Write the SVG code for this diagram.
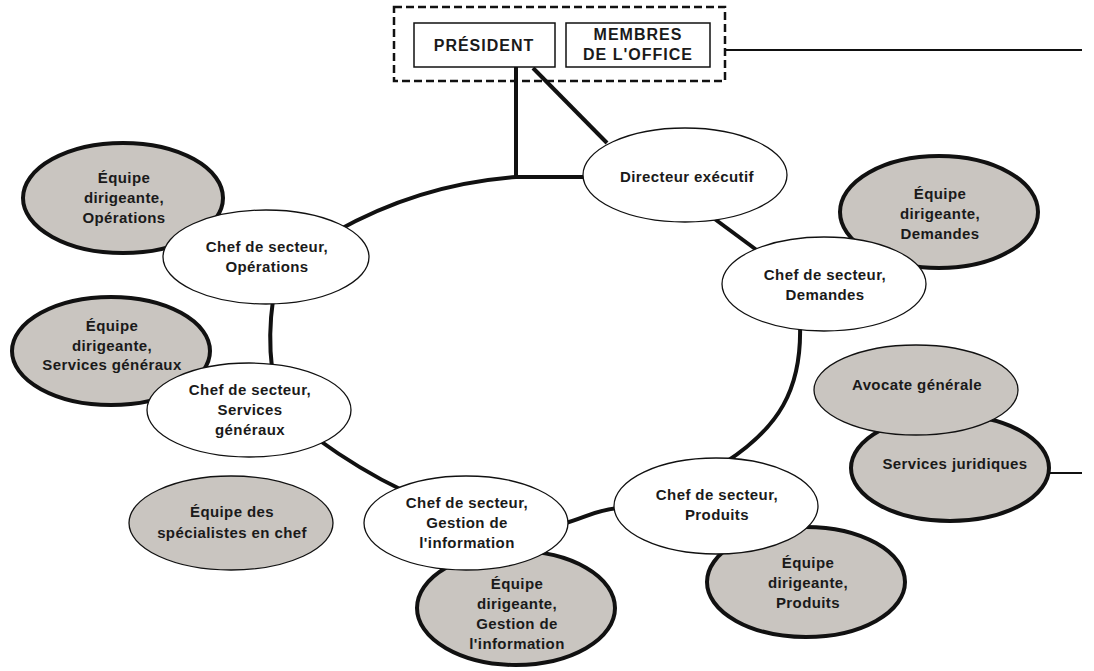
<svg xmlns="http://www.w3.org/2000/svg" width="1094" height="671" viewBox="0 0 1094 671">
<style>
  text { font-family: "Liberation Sans", Arial, sans-serif; font-weight: bold; font-size: 15px; letter-spacing: 0.4px; fill: #1a1a1a; text-anchor: middle; }
  .w { fill: #ffffff; stroke: #111; stroke-width: 1.3; }
  .g { fill: #c9c5c0; stroke: #111; stroke-width: 4; }
  .gt { fill: #c9c5c0; stroke: #111; stroke-width: 1.3; }
  .box { fill: #fff; stroke: #111; stroke-width: 1.5; }
  .con { fill: none; stroke: #111; stroke-width: 4; }
  .thin { fill: none; stroke: #111; stroke-width: 2; }
  .up { font-size: 16px; letter-spacing: 1px; }
</style>
<rect width="1094" height="671" fill="#fff"/>

<g id="connectors">
  <line x1="516" y1="67" x2="516" y2="179" class="con"/>
  <line x1="533" y1="68" x2="607" y2="143" class="con"/>
  <path d="M335,232 Q420,184 516,177 L590,177" class="con"/>
  <line x1="712" y1="217" x2="762" y2="254" class="con"/>
  <path d="M800,325 C802,390 778,428 726,462" class="con"/>
  <path d="M562,524 C585,518 595,510 618,508" class="con"/>
  <path d="M402,490 Q360,470 316,438" class="con"/>
  <path d="M272,368 Q268,335 273,300" class="con"/>
  <line x1="725" y1="50" x2="1082" y2="50" class="thin"/>
  <line x1="1048" y1="473" x2="1082" y2="473" class="thin"/>
</g>

<g id="direction">
  <rect x="394" y="7" width="331" height="74" fill="none" stroke="#111" stroke-width="2.5" stroke-dasharray="8,4"/>
  <g id="president">
    <rect x="414" y="23" width="141" height="44" class="box"/>
    <text x="484" y="51" class="up">PRÉSIDENT</text>
  </g>
  <g id="membres">
    <rect x="566" y="23" width="144" height="44" class="box"/>
    <text x="638" y="40" class="up">MEMBRES</text>
    <text x="638" y="60" class="up">DE L'OFFICE</text>
  </g>
</g>

<g id="eq-operations">
  <ellipse cx="123" cy="198" rx="100" ry="55" class="g"/>
  <text x="124" y="183">Équipe</text>
  <text x="124" y="203">dirigeante,</text>
  <text x="124" y="223">Opérations</text>
</g>
<g id="eq-demandes">
  <ellipse cx="939" cy="212" rx="99" ry="56" class="g"/>
  <text x="940" y="199">Équipe</text>
  <text x="940" y="219">dirigeante,</text>
  <text x="940" y="239">Demandes</text>
</g>
<g id="eq-services">
  <ellipse cx="111" cy="351" rx="99" ry="54" class="g"/>
  <text x="112" y="331">Équipe</text>
  <text x="112" y="351">dirigeante,</text>
  <text x="112" y="370">Services généraux</text>
</g>
<g id="eq-specialistes">
  <ellipse cx="231" cy="523" rx="102" ry="47" class="gt"/>
  <text x="232" y="517">Équipe des</text>
  <text x="232" y="538">spécialistes en chef</text>
</g>
<g id="eq-gestion">
  <ellipse cx="516" cy="608" rx="99" ry="57" class="g"/>
  <text x="517" y="589">Équipe</text>
  <text x="517" y="609">dirigeante,</text>
  <text x="517" y="629">Gestion de</text>
  <text x="517" y="649">l'information</text>
</g>
<g id="eq-produits">
  <ellipse cx="806" cy="582" rx="99" ry="55" class="g"/>
  <text x="808" y="568">Équipe</text>
  <text x="808" y="588">dirigeante,</text>
  <text x="808" y="608">Produits</text>
</g>
<g id="services-juridiques">
  <ellipse cx="950" cy="468" rx="99" ry="53" class="g"/>
  <text x="955" y="469">Services juridiques</text>
</g>
<g id="avocate">
  <ellipse cx="916" cy="390" rx="102" ry="45" class="gt"/>
  <text x="917" y="390">Avocate générale</text>
</g>

<g id="directeur">
  <ellipse cx="685" cy="175" rx="102" ry="47" class="w"/>
  <text x="687" y="182">Directeur exécutif</text>
</g>
<g id="chef-operations">
  <ellipse cx="266" cy="257" rx="103" ry="47" class="w"/>
  <text x="267" y="252">Chef de secteur,</text>
  <text x="267" y="272">Opérations</text>
</g>
<g id="chef-demandes">
  <ellipse cx="824" cy="284" rx="102" ry="47" class="w"/>
  <text x="825" y="280">Chef de secteur,</text>
  <text x="825" y="300">Demandes</text>
</g>
<g id="chef-services">
  <ellipse cx="249" cy="410" rx="102" ry="47" class="w"/>
  <text x="250" y="395">Chef de secteur,</text>
  <text x="250" y="415">Services</text>
  <text x="250" y="435">généraux</text>
</g>
<g id="chef-gestion">
  <ellipse cx="466" cy="523" rx="102" ry="47" class="w"/>
  <text x="467" y="508">Chef de secteur,</text>
  <text x="467" y="528">Gestion de</text>
  <text x="467" y="548">l'information</text>
</g>
<g id="chef-produits">
  <ellipse cx="716" cy="506" rx="102" ry="48" class="w"/>
  <text x="717" y="500">Chef de secteur,</text>
  <text x="717" y="520">Produits</text>
</g>
</svg>
